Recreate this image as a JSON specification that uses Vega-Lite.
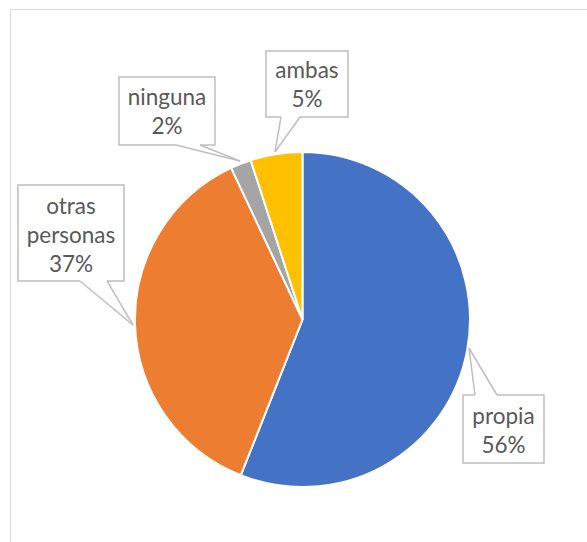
{
  "$schema": "https://vega.github.io/schema/vega-lite/v6.json",
  "width": 578,
  "height": 534,
  "padding": {"left": 10, "top": 9, "right": 0, "bottom": 0},
  "autosize": {"type": "none"},
  "background": "white",
  "data": {"values": [
    {"category": "propia", "value": 56},
    {"category": "otras personas", "value": 37},
    {"category": "ninguna", "value": 2},
    {"category": "ambas", "value": 5}
  ]},
  "transform": [
    {"window": [{"op": "row_number", "as": "idx"}]},
    {"calculate": "datum.category + ' ' + datum.value + '%'", "as": "label"}
  ],
  "layer": [
    {
      "mark": {"type": "arc", "radius": 167.5, "stroke": "white", "strokeWidth": 2},
      "encoding": {
        "theta": {"field": "value", "type": "quantitative", "stack": true},
        "order": {"field": "idx", "type": "quantitative"},
        "color": {"field": "category", "type": "nominal",
          "scale": {"domain": ["propia", "otras personas", "ninguna", "ambas"], "range": ["#4472C4", "#ED7D31", "#A5A5A5", "#FFC000"]},
          "legend": null},
        "x": {"datum": 0, "type": "quantitative", "scale": {"domain": [-1.746, 1.7045], "nice": false, "zero": false}},
        "y": {"datum": 0, "type": "quantitative", "scale": {"domain": [-1.3343, 1.8537], "nice": false, "zero": false}}
      }
    },
    {
      "transform": [{"filter": "datum.category === 'ninguna'"}],
      "layer": [
        {"mark": {"type": "rect", "fill": "white", "stroke": "#BFBFBF", "strokeWidth": 1.5},
         "encoding": {"x": {"datum": -1.0955}, "x2": {"datum": -0.5224}, "y": {"datum": 1.4478}, "y2": {"datum": 1.0418}}},
        {"mark": {"type": "rule", "stroke": "white", "strokeWidth": 2.5},
         "encoding": {"x": {"datum": -0.7552}, "x2": {"datum": -0.6119}, "y": {"datum": 1.0418}, "y2": {"datum": 1.0418}}},
        {"mark": {"type": "rule", "stroke": "#BFBFBF", "strokeWidth": 1.5},
         "encoding": {"x": {"datum": -0.7552}, "x2": {"datum": -0.3731}, "y": {"datum": 1.0418}, "y2": {"datum": 0.9463}}},
        {"mark": {"type": "rule", "stroke": "#BFBFBF", "strokeWidth": 1.5},
         "encoding": {"x": {"datum": -0.6119}, "x2": {"datum": -0.3731}, "y": {"datum": 1.0418}, "y2": {"datum": 0.9463}}},
        {"mark": {"type": "text", "lineBreak": " ", "lineHeight": 29, "font": "Lato", "fontSize": 22.5, "fill": "#595959", "baseline": "middle", "align": "center"},
         "encoding": {"text": {"field": "label"}, "x": {"datum": -0.809}, "y": {"datum": 1.3224}}}
      ]
    },
    {
      "transform": [{"filter": "datum.category === 'ambas'"}],
      "layer": [
        {"mark": {"type": "rect", "fill": "white", "stroke": "#BFBFBF", "strokeWidth": 1.5},
         "encoding": {"x": {"datum": -0.2179}, "x2": {"datum": 0.2716}, "y": {"datum": 1.603}, "y2": {"datum": 1.209}}},
        {"mark": {"type": "rule", "stroke": "white", "strokeWidth": 2.5},
         "encoding": {"x": {"datum": -0.1284}, "x2": {"datum": -0.0149}, "y": {"datum": 1.209}, "y2": {"datum": 1.209}}},
        {"mark": {"type": "rule", "stroke": "#BFBFBF", "strokeWidth": 1.5},
         "encoding": {"x": {"datum": -0.1284}, "x2": {"datum": -0.1642}, "y": {"datum": 1.209}, "y2": {"datum": 1.0}}},
        {"mark": {"type": "rule", "stroke": "#BFBFBF", "strokeWidth": 1.5},
         "encoding": {"x": {"datum": -0.0149}, "x2": {"datum": -0.1642}, "y": {"datum": 1.209}, "y2": {"datum": 1.0}}},
        {"mark": {"type": "text", "lineBreak": " ", "lineHeight": 29, "font": "Lato", "fontSize": 22.5, "fill": "#595959", "baseline": "middle", "align": "center"},
         "encoding": {"text": {"field": "label"}, "x": {"datum": 0.0269}, "y": {"datum": 1.4836}}}
      ]
    },
    {
      "transform": [{"filter": "datum.category === 'otras personas'"}],
      "layer": [
        {"mark": {"type": "rect", "fill": "white", "stroke": "#BFBFBF", "strokeWidth": 1.5},
         "encoding": {"x": {"datum": -1.6985}, "x2": {"datum": -1.0657}, "y": {"datum": 0.803}, "y2": {"datum": 0.2299}}},
        {"mark": {"type": "rule", "stroke": "white", "strokeWidth": 2.5},
         "encoding": {"x": {"datum": -1.3284}, "x2": {"datum": -1.1672}, "y": {"datum": 0.2299}, "y2": {"datum": 0.2299}}},
        {"mark": {"type": "rule", "stroke": "#BFBFBF", "strokeWidth": 1.5},
         "encoding": {"x": {"datum": -1.3284}, "x2": {"datum": -1.0119}, "y": {"datum": 0.2299}, "y2": {"datum": -0.0328}}},
        {"mark": {"type": "rule", "stroke": "#BFBFBF", "strokeWidth": 1.5},
         "encoding": {"x": {"datum": -1.1672}, "x2": {"datum": -1.0119}, "y": {"datum": 0.2299}, "y2": {"datum": -0.0328}}},
        {"mark": {"type": "text", "lineBreak": " ", "lineHeight": 29, "font": "Lato", "fontSize": 22.5, "fill": "#595959", "baseline": "middle", "align": "center"},
         "encoding": {"text": {"field": "label"}, "x": {"datum": -1.3821}, "y": {"datum": 0.6716}}}
      ]
    },
    {
      "transform": [{"filter": "datum.category === 'propia'"}],
      "layer": [
        {"mark": {"type": "rect", "fill": "white", "stroke": "#BFBFBF", "strokeWidth": 1.5},
         "encoding": {"x": {"datum": 0.9582}, "x2": {"datum": 1.4418}, "y": {"datum": -0.4507}, "y2": {"datum": -0.8567}}},
        {"mark": {"type": "rule", "stroke": "white", "strokeWidth": 2.5},
         "encoding": {"x": {"datum": 1.0299}, "x2": {"datum": 1.1612}, "y": {"datum": -0.4507}, "y2": {"datum": -0.4507}}},
        {"mark": {"type": "rule", "stroke": "#BFBFBF", "strokeWidth": 1.5},
         "encoding": {"x": {"datum": 1.0299}, "x2": {"datum": 0.994}, "y": {"datum": -0.4507}, "y2": {"datum": -0.1701}}},
        {"mark": {"type": "rule", "stroke": "#BFBFBF", "strokeWidth": 1.5},
         "encoding": {"x": {"datum": 1.1612}, "x2": {"datum": 0.994}, "y": {"datum": -0.4507}, "y2": {"datum": -0.1701}}},
        {"mark": {"type": "text", "lineBreak": " ", "lineHeight": 29, "font": "Lato", "fontSize": 22.5, "fill": "#595959", "baseline": "middle", "align": "center"},
         "encoding": {"text": {"field": "label"}, "x": {"datum": 1.2}, "y": {"datum": -0.5821}}}
      ]
    }
  ],
  "config": {
    "view": {"stroke": "#D9D9D9", "strokeWidth": 1},
    "axis": {"disable": true},
    "legend": {"disable": true}
  }
}
